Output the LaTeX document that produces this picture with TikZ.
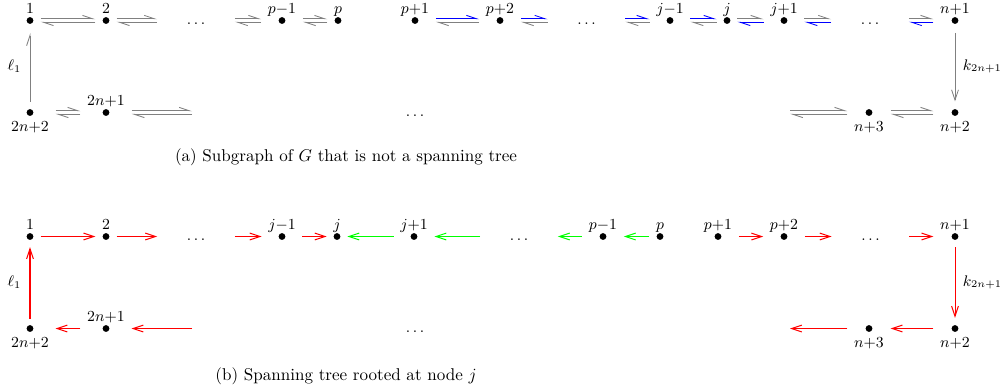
\documentclass[tikz,border=0pt]{standalone}
\usetikzlibrary{arrows.meta}
\definecolor{edgegray}{gray}{0.5}
\definecolor{pgreen}{rgb}{0,1,0}
\definecolor{pred}{rgb}{1,0,0}
\definecolor{pblue}{rgb}{0,0,1}
\tikzset{
  vert/.style={inner xsep=3.75pt, inner ysep=0pt, minimum height=8pt, font=\small,
    label distance=0pt,
    path picture={\fill[black] (path picture bounding box.center) circle (2pt);}},
  lababove/.style={inner sep=0pt, text depth=0pt, yshift=-0.5pt, font=\small},
  labbelow/.style={inner sep=0pt, yshift=-1pt, font=\small},
  dotsn/.style={inner sep=0pt, minimum width=45.2pt, text height=5pt, text depth=0pt, font=\small},
  harp/.style={line width=0.5pt, -{Straight Barb[harpoon,length=6pt,width=4pt]}},
  rarr/.style={pred, line width=0.6pt, -{Straight Barb[length=6pt,width=4pt]}},
  garr/.style={pgreen, line width=0.6pt, -{Straight Barb[length=6pt,width=4pt]}},
  elab/.style={font=\small, text=black},
  captext/.style={font=\normalsize}
}
\newcommand\mkvtx[4]{\node[vert,label={[lab#4]#4:$#3$}] (#1) at (#2) {\phantom{$#3$}};}
\newcommand\hp[4]{%
  \draw[harp,#3] ([yshift=1pt]#1) -- ([yshift=1pt]#2);
  \draw[harp,#4] ([yshift=-1pt]#2) -- ([yshift=-1pt]#1);}
\begin{document}
\begin{tikzpicture}[x=0.5865pt,y=-0.5865pt]
\useasboundingbox (0,0) rectangle (1000,387);
% ---------- (a) ----------
\mkvtx{a1}{30,20.5}{1}{above}
\mkvtx{a2}{106,20.5}{2}{above}
\node[dotsn] (ad1) at (196,20.5) {$\ldots$};
\mkvtx{apm}{282,20.5}{p{-}1}{above}
\mkvtx{ap}{338,20.5}{p}{above}
\mkvtx{app}{415,20.5}{p{+}1}{above}
\mkvtx{appp}{500,20.5}{p{+}2}{above}
\node[dotsn] (ad2) at (586.5,20.5) {$\ldots$};
\mkvtx{ajm}{670,20.5}{j{-}1}{above}
\mkvtx{aj}{727,20.5}{j}{above}
\mkvtx{ajp}{784,20.5}{j{+}1}{above}
\node[dotsn] (ad3) at (870,20.5) {$\ldots$};
\mkvtx{an1}{955,20.5}{n{+}1}{above}
\mkvtx{ab1}{30,112.5}{2n{+}2}{below}
\mkvtx{ab2}{106,112.5}{2n{+}1}{above}
\coordinate (as1) at (192,112.5);
\node[dotsn,minimum width=0pt] (ad4) at (415,112.5) {$\ldots$};
\coordinate (as2) at (790,112.5);
\mkvtx{an3}{869,112.5}{n{+}3}{below}
\mkvtx{an2}{955,112.5}{n{+}2}{below}

\hp{a1.east}{a2.west}{edgegray}{edgegray}
\hp{a2.east}{ad1.west}{edgegray}{edgegray}
\hp{ad1.east}{apm.west}{edgegray}{edgegray}
\hp{apm.east}{ap.west}{edgegray}{edgegray}
\hp{app.east}{appp.west}{pblue}{edgegray}
\hp{appp.east}{ad2.west}{pblue}{edgegray}
\hp{ad2.east}{ajm.west}{pblue}{edgegray}
\hp{ajm.east}{aj.west}{pblue}{edgegray}
\hp{aj.east}{ajp.west}{edgegray}{pblue}
\hp{ajp.east}{ad3.west}{edgegray}{pblue}
\hp{ad3.east}{an1.west}{edgegray}{pblue}
\hp{ab1.east}{ab2.west}{edgegray}{edgegray}
\hp{ab2.east}{as1}{edgegray}{edgegray}
\hp{as2}{an3.west}{edgegray}{edgegray}
\hp{an3.east}{an2.west}{edgegray}{edgegray}
\draw[harp,edgegray,shorten <=2pt,shorten >=3pt] (ab1) -- node[elab,left=1.5pt] {$\ell_1$} (a1);
\draw[edgegray,line width=0.5pt,-{Straight Barb[length=6pt,width=4pt]},shorten <=3pt,shorten >=2.3pt] (an1) -- node[elab,right=1pt] {$k_{2n+1}$} (an2);
\node[captext] (capa) at (346,157) {(a) Subgraph of $G$ that is not a spanning tree};

% ---------- (b) ----------
\mkvtx{b1}{30,236.5}{1}{above}
\mkvtx{b2}{106,236.5}{2}{above}
\node[dotsn] (bd1) at (196,236.5) {$\ldots$};
\mkvtx{bjm}{282,236.5}{j{-}1}{above}
\mkvtx{bj}{337,236.5}{j}{above}
\mkvtx{bjp}{414,236.5}{j{+}1}{above}
\node[dotsn] (bd2) at (519,236.5) {$\ldots$};
\mkvtx{bpm}{603,236.5}{p{-}1}{above}
\mkvtx{bp}{660,236.5}{p}{above}
\mkvtx{bpp}{718,236.5}{p{+}1}{above}
\mkvtx{bppp}{784,236.5}{p{+}2}{above}
\node[dotsn] (bd3) at (870.5,236.5) {$\ldots$};
\mkvtx{bn1}{955,236.5}{n{+}1}{above}
\mkvtx{bb1}{30,328.5}{2n{+}2}{below}
\mkvtx{bb2}{106,328.5}{2n{+}1}{above}
\coordinate (bs1) at (192,328.5);
\node[dotsn,minimum width=0pt] (bd4) at (415,328.5) {$\ldots$};
\coordinate (bs2) at (790,328.5);
\mkvtx{bn3}{869,328.5}{n{+}3}{below}
\mkvtx{bn2}{955,328.5}{n{+}2}{below}

\draw[rarr] (b1) -- (b2);
\draw[rarr] (b2) -- (bd1);
\draw[rarr] (bd1) -- (bjm);
\draw[rarr] (bjm) -- (bj);
\draw[garr] (bjp) -- (bj);
\draw[garr] (bd2) -- (bjp);
\draw[garr] (bpm) -- (bd2);
\draw[garr] (bp) -- (bpm);
\draw[rarr] (bpp) -- (bppp);
\draw[rarr] (bppp) -- (bd3);
\draw[rarr] (bd3) -- (bn1);
\draw[rarr,shorten <=2pt,shorten >=2pt] (bn1) -- node[elab,right=1pt] {$k_{2n+1}$} (bn2);
\draw[rarr] (bn2) -- (bn3);
\draw[rarr] (bn3) -- (bs2);
\draw[rarr] (bs1) -- (bb2);
\draw[rarr] (bb2) -- (bb1);
\draw[rarr,shorten <=1.5pt,shorten >=2pt] (bb1) -- node[elab,left=1.5pt] {$\ell_1$} (b1);
\node[captext] (capb) at (346,376) {(b) Spanning tree rooted at node $j$};
\end{tikzpicture}
\end{document}
